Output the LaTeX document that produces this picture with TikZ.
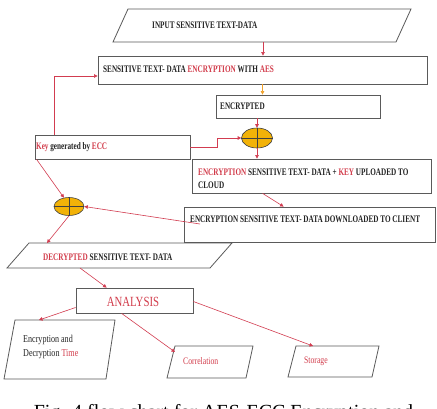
\documentclass[tikz,border=0pt]{standalone}
\usepackage{fontspec}
\setmainfont{Liberation Serif}
\newfontfamily\boxfont[FakeStretch=0.77]{Liberation Serif}
\newfontfamily\boxbold[FakeStretch=0.72]{Liberation Serif Bold}
\usetikzlibrary{arrows.meta,shapes.geometric}
\definecolor{lnred}{RGB}{210,60,80}
\definecolor{txred}{RGB}{210,60,75}
\definecolor{orarrow}{RGB}{240,160,40}
\definecolor{bord}{RGB}{90,90,90}
\definecolor{txblk}{RGB}{35,35,35}
\definecolor{sumfill}{RGB}{242,178,8}
\tikzset{
  box/.style={draw=bord, line width=0.8pt, inner sep=0pt},
  pgram/.style={draw=bord, line width=0.8pt},
  lbl/.style={anchor=west, inner sep=0pt, font=\boxfont\fontsize{10}{13}\selectfont, text=txblk, align=left},
  blbl/.style={lbl, font=\boxbold\fontsize{10}{13}\selectfont},
  conn/.style={draw=lnred, line width=0.6pt, -{Triangle[length=3.5pt,width=3.5pt]}},
  sumj/.style={ellipse, draw=black!75, line width=0.6pt, fill=sumfill, minimum width=31pt, minimum height=20pt, inner sep=0pt},
  crossl/.style={draw=black!75, line width=0.6pt}
}
\newcommand{\rd}[1]{\textcolor{txred}{#1}}
\begin{document}
\begin{tikzpicture}[x=1pt,y=-1pt]
\useasboundingbox (0,0) rectangle (437,408);
\clip (0,0) rectangle (437,408);
\fill[white] (0,0) rectangle (437,408);

% input parallelogram
\draw[pgram] (128,9) -- (411,9) -- (396,42) -- (113,42) -- cycle;
\coordinate (inB) at (263,42);
\node[blbl] (tin) at (152,25) {INPUT SENSITIVE TEXT-DATA};

% boxes
\node[box, minimum width=329pt, minimum height=28pt] (box2) at (262.5,70) {};
\node[blbl] (tbox2) at (103,69) {SENSITIVE TEXT- DATA \rd{ENCRYPTION} WITH \rd{AES}};

\node[box, minimum width=164pt, minimum height=23pt] (enc) at (298,106.5) {};
\node[blbl] (tenc) at (220,106) {ENCRYPTED};

\node[box, minimum width=155pt, minimum height=24pt] (key) at (112.5,147) {};
\node[blbl] (tkey) at (36,147) {\rd{Key} generated by \rd{ECC}};

\node[box, minimum width=239pt, minimum height=34pt] (up) at (311.5,176) {};
\node[blbl] (tup) at (198,178.5) {\rd{ENCRYPTION} SENSITIVE TEXT- DATA + \rd{KEY} UPLOADED TO\\CLOUD};

\node[box, minimum width=251pt, minimum height=35pt] (down) at (309.5,224.5) {};
\node[blbl] (tdown) at (190,219) {ENCRYPTION SENSITIVE TEXT- DATA DOWNLOADED TO CLIENT};
\coordinate (dl) at (200,224);

% summing junctions
\node[sumj] (e1) at (257,138) {};
\draw[crossl] (e1.north) -- (e1.south) (e1.west) -- (e1.east);
\node[sumj, minimum width=30pt, minimum height=18pt] (e2) at (69,206.5) {};
\draw[crossl] (e2.north) -- (e2.south) (e2.west) -- (e2.east);

% decrypted parallelogram
\draw[pgram] (29,243) -- (232,243) -- (210,268) -- (7,268) -- cycle;
\coordinate (decT) at (47,243);
\coordinate (decB) at (80,268);
\node[blbl] (tdec) at (43,257) {\rd{DECRYPTED} SENSITIVE TEXT- DATA};

% analysis
\node[box, minimum width=117pt, minimum height=25pt] (an) at (134.5,300.5) {};
\node[inner sep=0pt, font=\boxfont\fontsize{14}{16}\selectfont, text=txred] (tan) at (133,302) {ANALYSIS};

% result parallelograms
\draw[pgram] (15,320) -- (115,320) -- (106,379) -- (4,379) -- cycle;
\coordinate (etT) at (39,320);
\node[lbl, font=\boxfont\fontsize{10.5}{14}\selectfont] (tet) at (23,347) {Encryption and\\Decryption \rd{Time}};

\draw[pgram] (175,346) -- (253,346) -- (246,378) -- (167,378) -- cycle;
\coordinate (coT) at (175,352);
\node[lbl, text=txred] (tco) at (183,361) {Correlation};

\draw[pgram] (296,346) -- (379,346) -- (372,377) -- (288,377) -- cycle;
\coordinate (stT) at (313,346);
\node[lbl, text=txred] (tst) at (304,361) {Storage};

% connectors
\draw[conn] (inB) -- (inB |- box2.north);
\draw[conn, draw=orarrow] (box2.south) -- (box2.south |- enc.north);
\draw[conn] (enc.south -| e1) -- (e1.north);
\draw[conn] (key.east) -- ++(27,0) |- (e1.west);
\draw[conn] ([xshift=20pt]key.north west) |- ([yshift=-6pt]box2.west);
\draw[conn] (e1.south) -- (e1.south |- up.north);
\draw[conn] ([xshift=71pt]up.south west) -- ([xshift=100pt]down.north west);
\draw[conn] (dl) -- (e2.east);
\draw[conn] ([xshift=2pt]key.south west) -- (e2.120);
\draw[conn] (e2.south) -- (decT);
\draw[conn] (decB) -- ([xshift=31pt]an.north west);
\draw[conn] ([yshift=-7pt]an.west) -- (etT);
\draw[conn] ([xshift=46pt]an.south west) -- (coT);
\draw[conn] ([yshift=-1pt]an.east) -- (stT);

% caption (cut off at the bottom edge, as in the reference)
\node[anchor=base, inner sep=0pt, font=\fontsize{20}{24}\selectfont] (cap) at (223.5,418) {Fig. 4 flow chart for AES-ECC Encryption and};
\end{tikzpicture}
\end{document}
